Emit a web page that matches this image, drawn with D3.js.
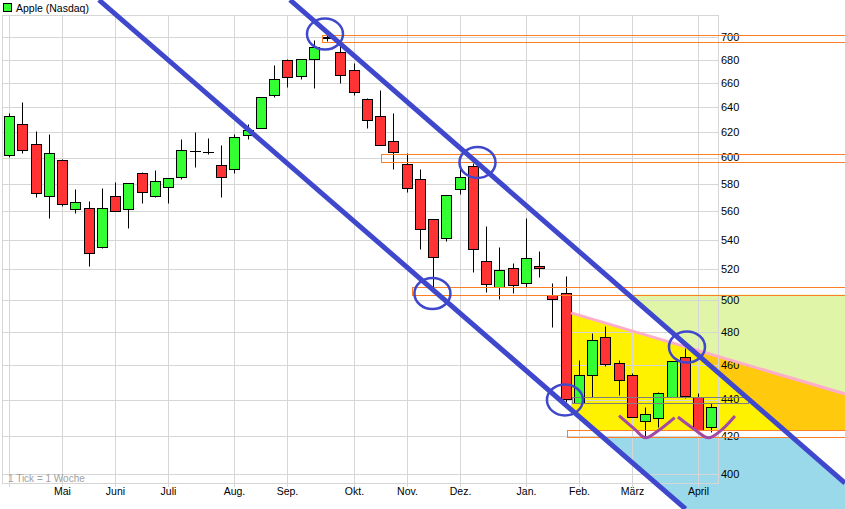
<!DOCTYPE html>
<html><head><meta charset="utf-8">
<script src="https://cdn.jsdelivr.net/npm/d3@7"></script>
<style>
body{margin:0;background:#fff}
svg{display:block}
text{font-family:"Liberation Sans",Arial,sans-serif}
</style>
</head><body>
<svg id="chart" width="845" height="509"></svg>
<script>
// ---- Weekly candles, Apple (Nasdaq), index = week number ----
const opens  = [602.0,626.5,610.6,571.3,598.2,561.8,562.5,535.1,571.3,561.8,588.4,571.3,577.9,585.4,604.8,604.5,594.3,591.3,617.9,623.5,650.2,679.9,666.2,680.8,699.8,687.0,671.0,646.8,632.9,613.0,595.2,583.8,554.6,541.2,576.4,593.6,525.8,508.4,520.9,511.2,522.2,503.1,504.4,438.0,454.2,476.9,461.2,454.2,428.2,429.9,441.4,464.6,441.4,424.9];
const highs  = [635.3,644.3,620.8,618.4,598.9,576.4,567.6,577.2,581.5,581.0,589.1,590.6,584.8,614.7,620.0,615.5,610.0,618.6,626.2,648.5,675.6,680.8,680.8,697.6,702.5,695.0,677.3,647.6,654.3,635.3,603.6,591.4,554.8,571.8,593.0,595.9,549.4,535.0,524.3,555.3,532.2,511.2,515.4,463.0,479.3,483.6,463.0,455.4,435.9,444.2,462.3,470.0,443.6,438.1];
const lows   = [600.5,603.6,570.6,555.4,564.0,558.9,521.9,534.4,560.0,548.4,566.1,570.6,566.1,583.9,592.8,602.8,570.6,588.4,614.7,623.5,648.5,656.7,663.6,655.9,697.0,660.2,650.2,623.5,609.8,591.4,574.2,533.8,508.4,539.2,572.8,518.2,505.0,500.6,504.4,508.4,514.8,482.9,438.6,438.0,441.5,459.4,442.7,430.4,419.6,424.9,441.4,441.0,422.0,422.1];
const closes = [632.9,605.9,573.5,603.6,565.4,566.9,531.1,562.5,560.3,580.8,574.2,582.3,584.6,605.9,605.4,604.0,585.4,616.3,621.9,648.4,663.6,665.3,680.8,691.4,700.1,667.0,652.7,629.7,609.8,604.4,577.1,547.6,528.3,571.8,585.4,533.8,510.4,519.6,509.8,527.7,520.9,500.5,440.3,454.0,475.1,460.6,451.3,430.4,432.1,443.6,462.3,441.9,423.4,435.9];

// ---- Axes ----
const monthIdx    = [0,4,8,12,17,21,26,30,34,39,43,47,52];
const monthLabels = ["","Mai","Juni","Juli","Aug.","Sep.","Okt.","Nov.","Dez.","Jan.","Feb.","März","April"];
const yTicks      = [400,420,440,460,480,500,520,540,560,580,600,620,640,660,680,700];
const seriesName  = "Apple (Nasdaq)";
const footNote    = "1 Tick = 1 Woche";

// ---- Annotations, in data coordinates [week index, price] ----
const channelUpper  = [[21.17,734.3],[63.06,395.4]];
const channelLower  = [[6.75,734.3],[51.02,382.5]];
const circleCenters = [[23.81,702.9],[35.32,596.3],[31.92,504.1],[41.92,439.8],[51.13,470.7]];
const bandStart     = [23.58,28.04,30.38,42.08];
const bandTop       = [702.1,602.6,508.4,423.0];
const bandBottom    = [695.5,596.4,503.4,419.3];
const grayBand      = [[42.45,441.4],[55.74,437.9]];
const resistance    = [[42.38,491.7],[63.06,443.2]];
const cup1 = [[46.0,431.0],[47.2,423.5],[48.0,419.0],[48.9,422.5],[50.2,430.0]];
const cup2 = [[50.45,430.3],[51.7,423.5],[52.75,419.0],[53.7,423.0],[54.75,430.9]];
const yellowZone = [[42.38,491.7],[51.36,470.1],[58.45,423.0],[44.11,423.0],[42.38,434.2]];
const orangeZone = [[51.36,470.1],[63.06,443.2],[63.06,423.0],[58.45,423.0]];
const greenZone  = [[46.72,503.4],[63.06,503.4],[63.06,443.2],[51.36,470.1]];
const blueZone   = [[44.78,419.3],[59.1,419.3],[63.06,395.4],[63.06,382.5],[51.02,382.5]];

// ---- Scales ----
const plot = {left:2.5, right:718.5, top:15.5, bottom:483.5};
const x = d3.scaleLinear().domain([0,53]).range([9.5,711.75]);
const y = d3.scaleLog().domain([395.4,720.3]).range([483,15]);
const svg = d3.select("#chart");
const px = d => Math.floor(x(d))+0.5;
const py = v => Math.round(y(v))+0.5;
const line = d3.line().x(d=>x(d[0])).y(d=>y(d[1]));

// ---- Zones ----
const zones = [[blueZone,"#99d9ea"],[greenZone,"#e0f5a8"],[yellowZone,"#fff200"],[orangeZone,"#ffc90e"]];
svg.append("g").selectAll("path").data(zones).join("path")
  .attr("d",d=>line(d[0])+"Z").attr("fill",d=>d[1]);

// ---- Grid ----
const grid = svg.append("g").attr("stroke","#d6d6d6").attr("stroke-width",1).attr("fill","none");
grid.selectAll("line.h").data(yTicks).join("line").attr("class","h")
  .attr("x1",plot.left).attr("x2",plot.right).attr("y1",py).attr("y2",py);
grid.selectAll("line.v").data(monthIdx).join("line").attr("class","v")
  .attr("x1",px).attr("x2",px).attr("y1",plot.top).attr("y2",487);
grid.append("rect").attr("x",plot.left).attr("y",plot.top)
  .attr("width",plot.right-plot.left).attr("height",plot.bottom-plot.top);

// ---- Axis labels ----
svg.append("g").selectAll("text").data(yTicks).join("text")
  .attr("x",721).attr("y",d=>y(d)).attr("dy","0.35em")
  .attr("font-size",11).attr("fill","#000").text(d=>d);
svg.append("g").selectAll("text").data(monthIdx).join("text")
  .attr("x",d=>px(d)).attr("y",491).attr("dy","0.35em").attr("text-anchor","middle")
  .attr("font-size",10.5).attr("fill","#000").text((d,i)=>monthLabels[i]);

svg.append("text").attr("x",8).attr("y",478).attr("dy","0.35em")
  .attr("font-size",10).attr("fill","#a0a0a0").text(footNote);

// ---- Legend ----
svg.append("rect").attr("x",3.5).attr("y",3.5).attr("width",8).attr("height",8)
  .attr("fill","#33ff33").attr("stroke","#000");
svg.append("text").attr("x",16).attr("y",8).attr("dy","0.35em")
  .attr("font-size",10.5).attr("fill","#000").text(seriesName);

// ---- Candles ----
const idx = d3.range(opens.length);
const cg = svg.append("g");
cg.selectAll("line").data(idx).join("line")
  .attr("x1",px).attr("x2",px)
  .attr("y1",i=>py(highs[i])).attr("y2",i=>py(lows[i]))
  .attr("stroke","#000").attr("stroke-width",1);
cg.selectAll("rect").data(idx).join("rect")
  .attr("x",i=>Math.floor(x(i))-5+0.5).attr("width",10)
  .attr("y",i=>py(Math.max(opens[i],closes[i])))
  .attr("height",i=>Math.max(0.01,py(Math.min(opens[i],closes[i]))-py(Math.max(opens[i],closes[i]))))
  .attr("fill",i=>closes[i]>=opens[i]?"#33ff33":"#ff3333")
  .attr("stroke","#000").attr("stroke-width",1);

// ---- Bands ----
svg.append("g").selectAll("rect").data(bandStart).join("rect")
  .attr("x",d=>Math.round(x(d))+0.5).attr("width",d=>850-x(d))
  .attr("y",(d,i)=>py(bandTop[i])).attr("height",(d,i)=>py(bandBottom[i])-py(bandTop[i]))
  .attr("fill","none").attr("stroke","#ff7f27").attr("stroke-width",1);
svg.append("rect")
  .attr("x",Math.round(x(grayBand[0][0]))+0.5).attr("width",x(grayBand[1][0])-x(grayBand[0][0]))
  .attr("y",py(grayBand[0][1])).attr("height",py(grayBand[1][1])-py(grayBand[0][1]))
  .attr("fill","none").attr("stroke","#7f7f7f").attr("stroke-width",1);

// ---- Resistance line (pink) ----
svg.append("path").attr("d",line(resistance)).attr("stroke","#ffaec9").attr("stroke-width",3).attr("fill","none");

// ---- Cups ----
const cupLine = d3.line().x(d=>x(d[0])).y(d=>y(d[1])).curve(d3.curveCatmullRom);
svg.append("g").selectAll("path").data([cup1,cup2]).join("path")
  .attr("d",cupLine).attr("stroke","#a349a4").attr("stroke-width",3).attr("fill","none");

// ---- Channel lines ----
svg.append("g").selectAll("path").data([channelUpper,channelLower]).join("path")
  .attr("d",line).attr("stroke","#3f48cc").attr("stroke-width",5).attr("fill","none");

// ---- Circles ----
svg.append("g").selectAll("ellipse").data(circleCenters).join("ellipse")
  .attr("cx",d=>x(d[0])).attr("cy",d=>y(d[1])).attr("rx",18).attr("ry",15.5)
  .attr("fill","none").attr("stroke","#3f48cc").attr("stroke-width",2.5);
</script>
</body></html>
